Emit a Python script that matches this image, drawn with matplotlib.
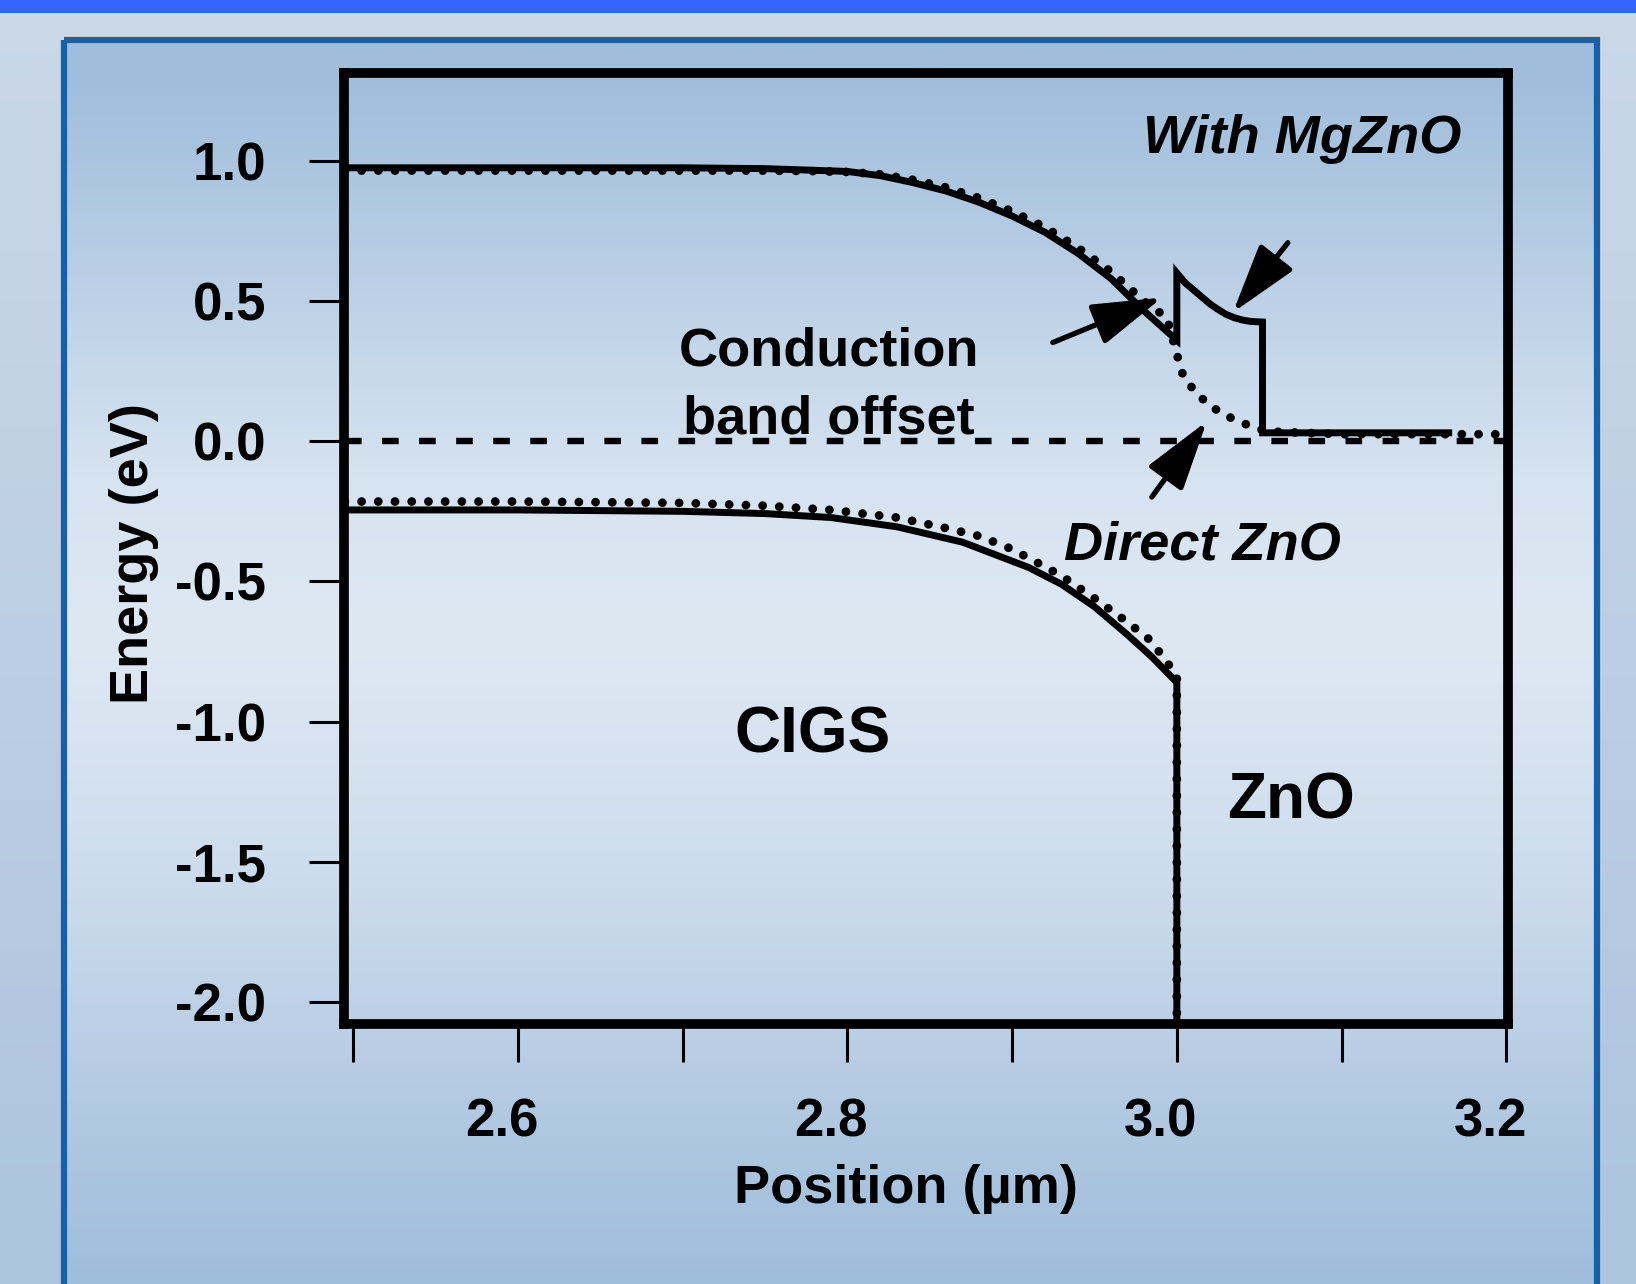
import numpy as np
import matplotlib
matplotlib.use('Agg')
import matplotlib.pyplot as plt
from matplotlib.patches import Rectangle
from matplotlib.transforms import ScaledTranslation

# Conduction band, with MgZnO buffer (solid)
cb_mg_x = [2.495, 2.60, 2.70, 2.75, 2.78, 2.80, 2.82, 2.84, 2.86, 2.88, 2.90, 2.92, 2.94, 2.96, 2.98, 3.000,
           3.000, 3.005, 3.010, 3.015, 3.020, 3.025, 3.030, 3.035, 3.040, 3.045, 3.052, 3.052, 3.10, 3.165]
cb_mg_y = [0.975, 0.975, 0.975, 0.972, 0.966, 0.962, 0.947, 0.922, 0.892, 0.852, 0.803, 0.745, 0.670, 0.580, 0.465, 0.360,
           0.600, 0.565, 0.540, 0.515, 0.490, 0.470, 0.452, 0.440, 0.432, 0.427, 0.425, 0.030, 0.030, 0.030]

# Conduction band, direct ZnO (dotted)
cb_zno_x = [2.495, 2.60, 2.70, 2.75, 2.78, 2.80, 2.82, 2.84, 2.86, 2.88, 2.90, 2.92, 2.94, 2.96, 2.98, 2.994,
            3.000, 3.004, 3.012, 3.020, 3.029, 3.038, 3.046, 3.055, 3.10, 3.20]
cb_zno_y = [0.965, 0.965, 0.965, 0.965, 0.963, 0.960, 0.952, 0.932, 0.905, 0.867, 0.820, 0.763, 0.690, 0.605, 0.500, 0.440,
            0.310, 0.230, 0.170, 0.128, 0.093, 0.071, 0.050, 0.035, 0.025, 0.025]

# Valence band, with MgZnO (solid)
vb_mg_x = [2.495, 2.60, 2.70, 2.75, 2.79, 2.83, 2.87, 2.91, 2.93, 2.95, 2.97, 2.985, 3.0, 3.0]
vb_mg_y = [-0.245, -0.245, -0.250, -0.258, -0.272, -0.305, -0.360, -0.450, -0.510, -0.590, -0.690, -0.770, -0.860, -2.08]

# Valence band, direct ZnO (dotted)
vb_zno_x = [2.495, 2.60, 2.70, 2.75, 2.79, 2.83, 2.86, 2.88, 2.90, 2.915, 2.93, 2.95, 2.97, 2.984, 3.0, 3.0]
vb_zno_y = [-0.215, -0.215, -0.220, -0.230, -0.245, -0.272, -0.310, -0.338, -0.385, -0.432, -0.480, -0.560, -0.645, -0.710, -0.835, -2.08]

# Fermi level
fermi_x = [2.495, 3.20]
fermi_y = [0.0, 0.0]

xticks_major = [2.6, 2.8, 3.0, 3.2]
xticks_minor = [2.5, 2.7, 2.9, 3.1]
xtick_labels = ['2.6', '2.8', '3.0', '3.2']
yticks = [1.0, 0.5, 0.0, -0.5, -1.0, -1.5, -2.0]
ytick_labels = ['1.0', '0.5', '0.0', '-0.5', '-1.0', '-1.5', '-2.0']

# Arrows (tail, tip) in data units
arrow_tails = [(2.9247, 0.352), (3.0674, 0.708), (2.9848, -0.199)]
arrow_tips = [(2.991, 0.512), (3.034, 0.459), (3.0182, 0.071)]

plt.rcParams['font.family'] = ['Liberation Sans', 'DejaVu Sans']

W, H = 1636, 1284
fig = plt.figure(figsize=(W / 100, H / 100), dpi=100)

####################
# Background (slide style)
bg = fig.add_axes([0, 0, 1, 1], zorder=0)
bg.set_xlim(0, W)
bg.set_ylim(H, 0)
bg.axis('off')

stops_y = [0, 300, 800, 1284]
outer_cols = np.array([[202, 216, 232], [196, 212, 230], [185, 204, 226], [172, 196, 222]]) / 255
yy = np.arange(H)
outer = np.stack([np.interp(yy, stops_y, outer_cols[:, i]) for i in range(3)], axis=-1)[:, None, :]
bg.imshow(outer, extent=[0, W, H, 0], aspect='auto', zorder=0)

in_y = [40, 200, 450, 620, 850, 1050, 1284]
inner_cols = np.array([[160, 190, 220], [180, 203, 227], [214, 227, 240], [222, 232, 243],
                       [206, 221, 237], [184, 205, 228], [158, 189, 219]]) / 255
inner = np.stack([np.interp(yy, in_y, inner_cols[:, i]) for i in range(3)], axis=-1)[:, None, :]
bg.imshow(inner, extent=[64, 1597, H, 40], aspect='auto', zorder=1)
bg.add_patch(Rectangle((64, 40), 1533, 1300, fill=False, ec='#1560A8', lw=4.5, zorder=2))
bg.add_patch(Rectangle((0, 0), W, 13, color='#3366FF', lw=0, zorder=3))
bg.set_xlim(0, W)
bg.set_ylim(H, 0)

####################
# Band diagram
ax = fig.add_axes([344 / W, 1 - 1024 / H, (1508 - 344) / W, (1024 - 73) / H], zorder=1)
ax.set_facecolor('none')

dot_style = dict(color='black', lw=6.3, linestyle=(0, (0.01, 1.9)), dash_capstyle='round')
ax.plot(cb_mg_x, cb_mg_y, color='black', lw=5, solid_joinstyle='miter')
ax.plot(vb_mg_x, vb_mg_y, color='black', lw=5)
ax.plot(cb_zno_x, cb_zno_y, **dot_style)
ax.plot(vb_zno_x, vb_zno_y, **dot_style)
ax.plot(fermi_x, fermi_y, color='black', lw=4.6, linestyle=(0, (2.6, 3.2)))

for tail, tip in zip(arrow_tails, arrow_tips):
    ax.annotate('', xy=tip, xytext=tail,
                arrowprops=dict(arrowstyle='-|>,head_length=4.3,head_width=1.3', color='black',
                                lw=3.8, shrinkA=0, shrinkB=0, mutation_scale=10))

ax.set_xlim(2.4945, 3.201)
ax.set_ylim(-2.078, 1.313)

ax.set_xticks(xticks_major)
ax.set_xticklabels(xtick_labels)
ax.set_xticks(xticks_minor, minor=True)
ax.set_yticks(yticks)
ax.set_yticklabels(ytick_labels)

for s in ax.spines.values():
    s.set_linewidth(7)
ax.tick_params(axis='x', which='both', length=27, width=2.2, pad=26)
ax.tick_params(axis='y', length=25, width=2.2, pad=31)
ax.tick_params(labelsize=38)
for lab in ax.get_xticklabels() + ax.get_yticklabels():
    lab.set_fontweight('bold')
for lab in ax.get_xticklabels():
    lab.set_transform(lab.get_transform() + ScaledTranslation(-0.16, 0, fig.dpi_scale_trans))

ax.set_ylabel('Energy (eV)', fontsize=39, fontweight='bold', va='center')
ax.yaxis.set_label_coords(-0.180, 0.495)
ax.set_xlabel('Position (µm)', fontsize=39, fontweight='bold', va='center')
ax.xaxis.set_label_coords(0.483, -0.1735)

txt = dict(color='black', fontweight='bold', va='baseline')
ax.text(3.173, 1.028, 'With MgZnO', ha='right', style='italic', fontsize=39, **txt)
ax.text(2.789, 0.27, 'Conduction', ha='center', fontsize=39, **txt)
ax.text(2.789, 0.0285, 'band offset', ha='center', fontsize=39, **txt)
ax.text(2.9314, -0.4235, 'Direct ZnO', ha='left', style='italic', fontsize=39, **txt)
ax.text(2.779, -1.11, 'CIGS', ha='center', fontsize=46, **txt)
ax.text(3.069, -1.345, 'ZnO', ha='center', fontsize=46, **txt)

plt.savefig('out.png', dpi=100)
